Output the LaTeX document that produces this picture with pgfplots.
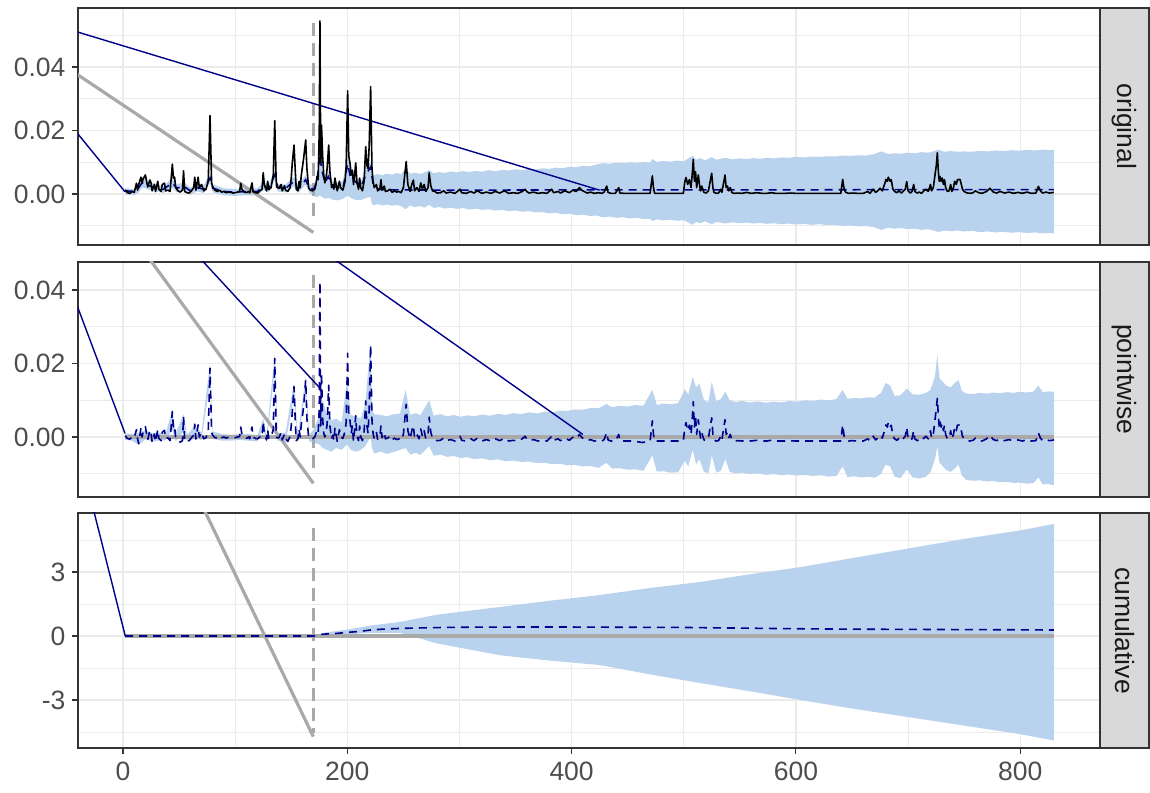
\documentclass[border=0pt]{standalone}
\usepackage{fontspec}
\setmainfont{Liberation Sans}
\usepackage{pgfplots}
\pgfplotsset{compat=1.18}
\usepackage{pgfplotstable}
\usepgfplotslibrary{fillbetween}
\definecolor{grey92}{HTML}{EBEBEB}
\definecolor{grey20}{HTML}{333333}
\definecolor{grey30}{HTML}{4D4D4D}
\definecolor{grey10}{HTML}{1A1A1A}
\definecolor{grey85}{HTML}{D9D9D9}
\definecolor{dgray}{HTML}{A9A9A9}
\definecolor{dblue}{HTML}{00008B}
\definecolor{slate}{HTML}{B9D3EE}

\pgfplotstableread{
x y
2 0.0013
4 0.0004
6 0.0002
8 0.0008
10 0.0005
12 0.0034
13 0.0012
14 0.0030
16 0.0053
17 0.0035
18 0.0048
20 0.0060
21 0.0040
22 0.0022
24 0.0044
25 0.0035
26 0.0010
28 0.0030
29 0.0008
31 0.0040
32 0.0015
34 0.0008
35 0.0030
37 0.0034
38 0.0010
40 0.0012
42 0.0008
44 0.0094
45 0.0050
46 0.0053
47 0.0020
49 0.0010
51 0.0006
53 0.0012
54 0.0073
55 0.0008
57 0.0004
59 0.0003
61 0.0010
63 0.0020
64 0.0053
65 0.0012
67 0.0053
68 0.0020
70 0.0030
72 0.0010
74 0.0015
76 0.0040
77.6 0.0247
79 0.0035
80 0.0023
82 0.0012
84 0.0008
86 0.0012
88 0.0006
90 0.0008
92 0.0004
94 0.0006
96 0.0005
98 0.0003
100 0.0004
102 0.0006
104 0.0008
105 0.0034
106 0.0015
108 0.0006
110 0.0004
112 0.0008
113 0.0003
115 0.0035
116 0.0008
118 0.0004
120 0.0003
122 0.0010
124 0.0015
125 0.0067
126 0.0030
128 0.0010
129 0.0040
130 0.0014
132 0.0020
134 0.0060
135.3 0.0231
136.5 0.0050
137 0.0022
139 0.0018
141 0.0030
142 0.0010
144 0.0026
145 0.0012
147 0.0008
149 0.0020
150 0.0050
151 0.0100
152.5 0.0154
153.5 0.0080
154.5 0.0015
156 0.0010
157 0.0040
158 0.0020
159 0.0060
161 0.0110
162.9 0.0170
164 0.0080
165.5 0.0020
167 0.0012
169 0.0010
171 0.0015
172 0.0030
173 0.0055
174 0.0045
175 0.0200
175.6 0.0545
176.3 0.0100
177 0.0217
178 0.0120
179 0.0060
180 0.0035
181 0.0050
182 0.0080
183.4 0.0154
184.5 0.0070
186 0.0020
187 0.0030
188 0.0015
189 0.0050
190 0.0030
191 0.0010
193 0.0040
194 0.0020
196 0.0012
198 0.0040
199 0.0090
200.3 0.0325
201.3 0.0120
202.4 0.0097
203.5 0.0060
204.5 0.0075
205.5 0.0030
206.5 0.0060
207.5 0.0098
208.5 0.0040
210 0.0015
211 0.0050
212 0.0020
213.5 0.0010
215 0.0040
216.4 0.0149
217.5 0.0090
218.5 0.0080
219.5 0.0150
220.8 0.0338
222 0.0080
223 0.0040
224 0.0020
226 0.0030
227 0.0010
229 0.0015
230 0.0045
231 0.0012
233 0.0025
234 0.0008
236 0.0010
238 0.0015
240 0.0005
242 0.0010
244 0.0006
246 0.0008
248 0.0004
250 0.0020
252.5 0.0102
254 0.0030
256 0.0008
257.5 0.0030
258.9 0.0044
260 0.0010
262 0.0020
264 0.0008
265.5 0.0035
267 0.0015
268.5 0.0030
270 0.0008
272 0.0020
273 0.0067
274.5 0.0025
276 0.0010
278 0.0008
280 0.0003
283 0.0004
286 0.0010
288 0.0003
292 0.0006
296 0.0002
300.5 0.0015
302 0.0004
306 0.0002
310 0.0008
313 0.0003
316 0.0010
320 0.0002
324 0.0006
328 0.0002
332 0.0008
336 0.0003
340 0.0010
344 0.0002
348 0.0004
352 0.0002
356 0.0008
358.4 0.0015
360 0.0008
362 0.0003
366 0.0006
370 0.0002
374 0.0004
378 0.0002
382.2 0.0015
384 0.0004
388 0.0008
390 0.0003
394 0.0010
398 0.0004
401 0.0012
404 0.0008
407 0.0020
409 0.0012
411 0.0008
414 0.0003
417 0.0006
420 0.0002
424 0.0004
427 0.0002
429 0.0006
431.3 0.0025
432.5 0.0005
435 0.0002
439 0.0002
442 0.0020
443 0.0003
447 0.0002
455 0.0002
463 0.0002
470 0.0002
471 0.0030
472 0.0057
473 0.0020
474 0.0002
485 0.0002
495 0.0002
499.6 0.0002
501 0.0040
502 0.0052
503.5 0.0030
505 0.0045
506.5 0.0020
507.5 0.0060
508.5 0.0109
509.5 0.0040
510.5 0.0070
511.5 0.0020
513 0.0060
514 0.0030
515 0.0010
516 0.0025
518 0.0005
520 0.0003
522 0.0010
524.9 0.0065
526 0.0020
527 0.0005
529 0.0002
531 0.0003
533 0.0015
534 0.0005
535.5 0.0035
536.8 0.0060
537.8 0.0020
539 0.0025
540 0.0010
541.5 0.0020
543 0.0004
545 0.0002
548 0.0003
552 0.0002
556 0.0005
560 0.0002
565 0.0004
570 0.0002
574 0.0002
578 0.0004
582 0.0002
586 0.0002
590 0.0002
595 0.0003
600 0.0002
610 0.0002
620 0.0002
630 0.0002
640 0.0002
641.7 0.0046
643 0.0015
644.5 0.0005
647 0.0002
650 0.0003
655 0.0002
660 0.0002
664 0.0008
666 0.0002
669 0.0015
671 0.0005
673 0.0010
675 0.0018
677 0.0010
679 0.0030
680.3 0.0046
681.5 0.0040
682.4 0.0053
684 0.0040
685 0.0045
686.5 0.0015
688 0.0008
690 0.0004
692 0.0010
694 0.0003
696 0.0010
697.5 0.0015
698.8 0.0039
700 0.0010
702 0.0003
703.5 0.0008
705 0.0030
706 0.0008
708 0.0003
710 0.0006
712 0.0002
714 0.0010
716 0.0015
718 0.0008
720 0.0030
721 0.0010
722.5 0.0020
724 0.0060
725.2 0.0090
726.1 0.0130
727 0.0070
727.8 0.0040
728.5 0.0055
729.5 0.0040
730.5 0.0050
731.5 0.0030
732.5 0.0045
733.5 0.0020
735 0.0008
736.5 0.0010
738 0.0030
739 0.0008
740.5 0.0020
741.5 0.0040
743 0.0030
744 0.0045
746.3 0.0046
747.5 0.0030
748.5 0.0015
750 0.0008
752 0.0004
755 0.0002
758 0.0004
760 0.0010
763 0.0004
766 0.0002
770 0.0008
773 0.0018
776 0.0006
779 0.0003
782 0.0008
786 0.0003
790 0.0006
794 0.0002
798 0.0005
802 0.0002
806 0.0006
810 0.0002
814 0.0003
816.2 0.0024
818 0.0010
820 0.0003
823 0.0006
826 0.0003
830 0.0005
}\resp

\pgfplotstableread{
x y
2 0.0010
10 0.0008
14 0.0020
17 0.0035
20 0.0032
24 0.0025
30 0.0020
36 0.0015
44 0.0035
48 0.0018
54 0.0025
60 0.0010
66 0.0020
72 0.0015
77.6 0.0050
80 0.0018
90 0.0008
100 0.0006
110 0.0008
120 0.0008
125 0.0025
130 0.0018
135.3 0.0060
138 0.0020
145 0.0018
152.5 0.0040
156 0.0015
162.9 0.0045
166 0.0018
170 0.0015
173 0.0040
175.6 0.0125
177 0.0080
180 0.0035
183 0.0055
187 0.0025
192 0.0020
196 0.0015
200.3 0.0095
203 0.0050
207 0.0040
212 0.0020
216.4 0.0060
220.8 0.0085
223 0.0030
228 0.0015
240 0.0013
300 0.0012
400 0.0013
500 0.0013
600 0.0013
700 0.0014
830 0.0014
}\pred

\pgfplotstableread{
x lo hi
2 -0.0002 0.0018
10 -0.0003 0.0015
14 0.0005 0.0030
17 0.0020 0.0050
20 0.0018 0.0048
24 0.0012 0.0038
30 0.0008 0.0030
36 0.0003 0.0025
44 0.0020 0.0050
48 0.0005 0.0030
54 0.0012 0.0038
60 -0.0002 0.0020
66 0.0008 0.0032
72 0.0003 0.0027
77.6 0.0035 0.0065
80 0.0005 0.0030
90 -0.0004 0.0018
100 -0.0006 0.0016
110 -0.0004 0.0018
120 -0.0004 0.0018
125 0.0012 0.0038
130 0.0005 0.0030
135.3 0.0045 0.0075
138 0.0008 0.0032
145 0.0005 0.0030
152.5 0.0025 0.0055
156 0.0003 0.0027
162.9 0.0030 0.0060
166 0.0005 0.0030
170 -0.0006 0.0030
173 -0.0010 0.0050
175.6 -0.0005 0.0135
177 -0.0008 0.0090
180 -0.0015 0.0050
183 -0.0012 0.0075
187 -0.0018 0.0040
192 -0.0020 0.0035
196 -0.0015 0.0040
200.3 -0.0005 0.0120
203 -0.0012 0.0070
207 -0.0018 0.0060
212 -0.0020 0.0040
216.4 -0.0012 0.0080
220.8 -0.0010 0.0100
221.8 -0.0030 0.0060
223 -0.0035 0.0058
227 -0.0032 0.0063
231 -0.0036 0.0059
235 -0.0033 0.0064
240 -0.0037 0.0061
244 -0.0034 0.0066
248 -0.0038 0.0063
252 -0.0048 0.0080
256 -0.0036 0.0064
260 -0.0041 0.0067
265 -0.0038 0.0063
269 -0.0043 0.0068
273 -0.0034 0.0076
277 -0.0044 0.0065
282 -0.0041 0.0069
287 -0.0046 0.0066
292 -0.0043 0.0071
298 -0.0047 0.0068
303 -0.0044 0.0072
309 -0.0049 0.0069
315 -0.0046 0.0073
320 -0.0050 0.0070
326 -0.0048 0.0075
332 -0.0052 0.0072
338 -0.0050 0.0076
344 -0.0054 0.0074
350 -0.0052 0.0078
356 -0.0056 0.0075
362 -0.0054 0.0079
368 -0.0058 0.0077
374 -0.0057 0.0081
380 -0.0061 0.0079
386 -0.0059 0.0083
392 -0.0064 0.0081
398 -0.0062 0.0086
404 -0.0067 0.0084
410 -0.0065 0.0089
416 -0.0069 0.0087
422 -0.0068 0.0093
428 -0.0073 0.0097
434 -0.0071 0.0095
440 -0.0075 0.0099
446 -0.0073 0.0097
452 -0.0077 0.0100
458 -0.0075 0.0098
464 -0.0079 0.0101
470 -0.0078 0.0099
472 -0.0085 0.0110
476 -0.0080 0.0101
482 -0.0083 0.0104
488 -0.0081 0.0102
494 -0.0084 0.0105
500 -0.0083 0.0103
504 -0.0090 0.0112
508 -0.0097 0.0120
511 -0.0088 0.0108
515 -0.0092 0.0113
519 -0.0086 0.0106
525 -0.0096 0.0116
529 -0.0088 0.0108
537 -0.0093 0.0114
543 -0.0089 0.0109
550 -0.0092 0.0112
556 -0.0090 0.0110
562 -0.0093 0.0113
568 -0.0091 0.0111
574 -0.0094 0.0114
580 -0.0092 0.0112
587 -0.0095 0.0115
594 -0.0093 0.0114
600 -0.0096 0.0117
607 -0.0094 0.0115
614 -0.0097 0.0118
621 -0.0095 0.0117
628 -0.0098 0.0119
635 -0.0097 0.0118
642 -0.0101 0.0121
649 -0.0099 0.0120
656 -0.0102 0.0122
663 -0.0101 0.0121
670 -0.0105 0.0126
676 -0.0113 0.0134
682 -0.0106 0.0126
688 -0.0109 0.0128
694 -0.0107 0.0127
700 -0.0111 0.0130
706 -0.0109 0.0128
712 -0.0113 0.0132
718 -0.0111 0.0130
724 -0.0116 0.0136
727 -0.0120 0.0140
732 -0.0115 0.0133
738 -0.0117 0.0135
744 -0.0115 0.0133
750 -0.0118 0.0134
757 -0.0116 0.0133
764 -0.0120 0.0136
771 -0.0118 0.0134
778 -0.0121 0.0137
785 -0.0119 0.0135
792 -0.0122 0.0138
799 -0.0120 0.0136
806 -0.0123 0.0139
813 -0.0121 0.0137
820 -0.0124 0.0140
826 -0.0122 0.0138
830 -0.0124 0.0139
}\bandA

\pgfplotstableread{
x y
2 0.0003
4 -0.0004
6 -0.0006
8 0.0000
10 -0.0003
12 0.0020
13 -0.0005
14 -0.0018
16 0.0025
17 0.0000
18 0.0014
20 0.0028
21 0.0008
22 -0.0008
24 0.0019
25 0.0010
26 -0.0014
28 0.0008
29 -0.0013
31 0.0020
32 -0.0004
34 -0.0010
35 0.0013
37 0.0018
38 -0.0005
40 -0.0002
42 -0.0010
44 0.0069
45 0.0025
46 0.0030
47 -0.0005
49 -0.0010
51 -0.0014
53 -0.0010
54 0.0055
55 -0.0012
57 -0.0012
59 -0.0010
61 -0.0002
63 0.0005
64 0.0035
65 -0.0006
67 0.0033
68 0.0000
70 0.0013
72 -0.0005
74 -0.0002
76 0.0015
77.6 0.0187
79 0.0012
80 0.0005
82 -0.0002
84 -0.0002
86 0.0004
88 -0.0002
90 0.0000
92 -0.0003
94 -0.0001
96 -0.0002
98 -0.0003
100 -0.0002
102 0.0000
104 0.0001
105 0.0027
106 0.0008
108 -0.0002
110 -0.0004
112 0.0000
113 -0.0005
115 0.0027
116 0.0000
118 -0.0004
120 -0.0005
122 0.0000
124 -0.0002
125 0.0042
126 0.0008
128 -0.0008
129 0.0020
130 -0.0004
132 0.0000
134 0.0020
135.3 0.0214
136.5 0.0020
137 -0.0002
139 -0.0002
141 0.0012
142 -0.0008
144 0.0008
145 -0.0005
147 -0.0012
149 0.0002
150 0.0030
151 0.0070
152.5 0.0137
153.5 0.0050
154.5 -0.0010
156 -0.0005
157 0.0022
158 0.0000
159 0.0035
161 0.0080
162.9 0.0155
164 0.0050
165.5 0.0000
167 -0.0005
169 -0.0005
171 0.0000
172 0.0010
173 0.0015
174 0.0008
175 0.0080
175.6 0.0423
176.3 0.0030
177 0.0174
178 0.0050
179 0.0010
180 0.0000
181 0.0010
182 0.0035
183.4 0.0141
184.5 0.0030
186 -0.0005
187 0.0005
188 -0.0010
189 0.0025
190 0.0008
191 -0.0012
193 0.0020
194 0.0000
196 -0.0004
198 0.0015
199 0.0040
200.3 0.0228
201.3 0.0055
202.4 0.0045
203.5 0.0010
204.5 0.0030
205.5 -0.0012
206.5 0.0020
207.5 0.0058
208.5 0.0005
210 -0.0010
211 0.0030
212 0.0000
213.5 -0.0010
215 0.0015
216.4 0.0098
217.5 0.0030
218.5 0.0010
219.5 0.0075
220.8 0.0250
222 0.0045
223 0.0010
224 -0.0005
226 0.0012
227 -0.0006
229 0.0000
230 0.0030
231 -0.0002
233 0.0012
234 -0.0005
236 -0.0003
238 0.0002
240 -0.0008
242 -0.0003
244 -0.0007
246 -0.0005
248 -0.0009
250 0.0007
252.5 0.0089
254 0.0017
256 -0.0005
257.5 0.0017
258.9 0.0031
260 -0.0003
262 0.0007
264 -0.0005
265.5 0.0022
267 0.0002
268.5 0.0017
270 -0.0005
272 0.0007
273 0.0054
274.5 0.0012
276 -0.0003
278 -0.0005
280 -0.0010
283 -0.0009
286 -0.0003
288 -0.0010
292 -0.0007
296 -0.0011
300.5 0.0002
302 -0.0009
306 -0.0011
310 -0.0005
313 -0.0010
316 -0.0003
320 -0.0011
324 -0.0007
328 -0.0011
332 -0.0005
336 -0.0010
340 -0.0003
344 -0.0011
348 -0.0009
352 -0.0011
356 -0.0005
358.4 0.0002
360 -0.0005
362 -0.0010
366 -0.0007
370 -0.0011
374 -0.0009
378 -0.0011
382.2 0.0002
384 -0.0009
388 -0.0005
390 -0.0010
394 -0.0003
398 -0.0009
401 -0.0001
404 -0.0005
407 0.0007
409 -0.0001
411 -0.0005
414 -0.0010
417 -0.0007
420 -0.0011
424 -0.0009
427 -0.0011
429 -0.0007
431.3 0.0012
432.5 -0.0008
435 -0.0011
439 -0.0011
442 0.0007
443 -0.0010
447 -0.0011
455 -0.0011
463 -0.0015
470 -0.0011
471 0.0017
472 0.0044
473 0.0007
474 -0.0011
485 -0.0011
495 -0.0011
499.6 -0.0011
501 0.0027
502 0.0039
503.5 0.0017
505 0.0032
506.5 0.0007
507.5 0.0047
508.5 0.0096
509.5 0.0027
510.5 0.0057
511.5 0.0007
513 0.0047
514 0.0017
515 -0.0003
516 0.0012
518 -0.0008
520 -0.0010
522 -0.0003
524.9 0.0052
526 0.0007
527 -0.0008
529 -0.0011
531 -0.0010
533 0.0002
534 -0.0008
535.5 0.0022
536.8 0.0047
537.8 0.0007
539 0.0012
540 -0.0003
541.5 0.0007
543 -0.0009
545 -0.0011
548 -0.0010
552 -0.0011
556 -0.0008
560 -0.0011
565 -0.0009
570 -0.0011
574 -0.0011
578 -0.0009
582 -0.0011
586 -0.0011
590 -0.0011
595 -0.0010
600 -0.0011
610 -0.0011
620 -0.0011
630 -0.0011
640 -0.0011
641.7 0.0033
643 0.0002
644.5 -0.0008
647 -0.0011
650 -0.0010
655 -0.0011
660 -0.0011
664 -0.0005
666 -0.0011
669 0.0002
671 -0.0008
673 -0.0003
675 0.0005
677 -0.0003
679 0.0017
680.3 0.0033
681.5 0.0027
682.4 0.0040
684 0.0027
685 0.0032
686.5 0.0002
688 -0.0005
690 -0.0009
692 -0.0003
694 -0.0010
696 -0.0003
697.5 0.0002
698.8 0.0026
700 -0.0003
702 -0.0010
703.5 -0.0005
705 0.0017
706 -0.0005
708 -0.0010
710 -0.0007
712 -0.0011
714 -0.0003
716 0.0002
718 -0.0005
720 0.0017
721 -0.0003
722.5 0.0007
724 0.0047
725.2 0.0077
726.1 0.0105
727 0.0057
727.8 0.0027
728.5 0.0042
729.5 0.0027
730.5 0.0037
731.5 0.0017
732.5 0.0032
733.5 0.0007
735 -0.0005
736.5 -0.0003
738 0.0017
739 -0.0005
740.5 0.0007
741.5 0.0027
743 0.0017
744 0.0032
746.3 0.0033
747.5 0.0017
748.5 0.0002
750 -0.0005
752 -0.0009
755 -0.0011
758 -0.0009
760 -0.0003
763 -0.0009
766 -0.0011
770 -0.0005
773 0.0005
776 -0.0007
779 -0.0010
782 -0.0005
786 -0.0010
790 -0.0007
794 -0.0011
798 -0.0008
802 -0.0011
806 -0.0007
810 -0.0011
814 -0.0010
816.2 0.0011
818 -0.0003
820 -0.0010
823 -0.0007
826 -0.0010
830 -0.0008
}\eff

\pgfplotstableread{
x lo hi
2 -0.0008 0.0010
8 -0.0010 0.0008
14 -0.0022 0.0012
20 -0.0006 0.0018
26 -0.0012 0.0010
32 -0.0010 0.0012
38 -0.0009 0.0008
44 0.0020 0.0075
47 -0.0012 0.0010
54 0.0015 0.0062
57 -0.0014 0.0006
64 -0.0004 0.0030
70 -0.0008 0.0012
77.6 0.0150 0.0200
80 -0.0005 0.0015
88 -0.0010 0.0008
96 -0.0010 0.0006
104 -0.0008 0.0008
112 -0.0010 0.0008
120 -0.0012 0.0005
125 0.0025 0.0050
128 -0.0014 0.0004
135.3 0.0180 0.0225
138 -0.0010 0.0010
145 -0.0014 0.0012
152.5 0.0110 0.0150
156 -0.0014 0.0004
162.9 0.0130 0.0165
166 -0.0012 0.0006
170 -0.0015 0.0020
175 -0.0020 0.0060
178 -0.0030 0.0100
182 -0.0035 0.0060
186 -0.0040 0.0045
190 -0.0030 0.0050
195 -0.0035 0.0040
200 -0.0020 0.0160
203 -0.0035 0.0060
208 -0.0040 0.0055
212 -0.0035 0.0050
216 -0.0025 0.0090
220.8 0.0000 0.0260
222 -0.0030 0.0075
224 -0.0045 0.0062
230 -0.0040 0.0060
235 -0.0046 0.0056
240 -0.0042 0.0061
247 -0.0035 0.0064
252 -0.0030 0.0128
256 -0.0048 0.0060
261 -0.0043 0.0065
265 -0.0049 0.0059
273 -0.0025 0.0100
277 -0.0051 0.0058
283 -0.0048 0.0062
289 -0.0054 0.0056
295 -0.0052 0.0060
301 -0.0057 0.0055
307 -0.0055 0.0059
313 -0.0060 0.0056
320 -0.0058 0.0061
327 -0.0063 0.0058
334 -0.0061 0.0063
341 -0.0066 0.0060
348 -0.0064 0.0065
355 -0.0068 0.0062
362 -0.0067 0.0067
369 -0.0071 0.0064
376 -0.0070 0.0069
383 -0.0074 0.0067
390 -0.0073 0.0072
396 -0.0077 0.0071
403 -0.0076 0.0075
410 -0.0080 0.0074
417 -0.0079 0.0079
424 -0.0084 0.0078
431 -0.0070 0.0090
436 -0.0086 0.0081
443 -0.0085 0.0085
450 -0.0089 0.0083
457 -0.0088 0.0087
464 -0.0092 0.0085
472 -0.0050 0.0128
476 -0.0094 0.0087
482 -0.0093 0.0091
488 -0.0097 0.0089
495 -0.0096 0.0092
501 -0.0065 0.0130
504 -0.0080 0.0115
508 -0.0035 0.0164
511 -0.0075 0.0135
514 -0.0060 0.0145
518 -0.0095 0.0100
522 -0.0098 0.0095
525 -0.0050 0.0150
529 -0.0097 0.0097
533 -0.0092 0.0103
537 -0.0060 0.0123
541 -0.0095 0.0100
546 -0.0099 0.0095
552 -0.0097 0.0098
559 -0.0101 0.0094
566 -0.0099 0.0097
573 -0.0103 0.0093
580 -0.0101 0.0096
587 -0.0104 0.0094
594 -0.0102 0.0098
601 -0.0105 0.0096
608 -0.0103 0.0100
615 -0.0106 0.0098
622 -0.0104 0.0102
629 -0.0108 0.0100
636 -0.0106 0.0103
641.7 -0.0080 0.0128
646 -0.0109 0.0104
652 -0.0107 0.0106
658 -0.0110 0.0105
664 -0.0108 0.0108
670 -0.0111 0.0107
676 -0.0100 0.0120
680 -0.0075 0.0147
684 -0.0080 0.0140
688 -0.0108 0.0112
693 -0.0112 0.0113
699 -0.0088 0.0132
704 -0.0110 0.0116
710 -0.0113 0.0115
716 -0.0108 0.0120
720 -0.0095 0.0128
724 -0.0060 0.0165
726.1 -0.0026 0.0223
728 -0.0070 0.0160
731 -0.0080 0.0150
734 -0.0090 0.0140
738 -0.0095 0.0135
742 -0.0085 0.0148
745 -0.0075 0.0155
748 -0.0105 0.0125
752 -0.0117 0.0118
758 -0.0119 0.0117
764 -0.0118 0.0120
770 -0.0121 0.0118
776 -0.0120 0.0121
782 -0.0123 0.0119
788 -0.0122 0.0122
794 -0.0125 0.0120
800 -0.0124 0.0123
806 -0.0127 0.0121
812 -0.0125 0.0124
816.2 -0.0110 0.0140
820 -0.0129 0.0122
825 -0.0128 0.0124
830 -0.0131 0.0123
}\bandB

\pgfplotstableread{
x y
2 0
170 0
172 0.02
176 0.07
180 0.09
190 0.12
200 0.17
210 0.21
222 0.29
235 0.33
250 0.36
275 0.39
300 0.41
350 0.42
400 0.42
450 0.41
500 0.40
550 0.37
600 0.34
650 0.32
700 0.31
750 0.30
800 0.29
830 0.28
}\cum

\pgfplotstableread{
x lo hi
170 0 0
180 0.02 0.16
200 0.08 0.30
222 0.15 0.50
247 0.15 0.66
280 -0.35 1.00
336 -0.90 1.36
380 -1.15 1.65
425 -1.36 1.92
470 -1.80 2.25
514 -2.20 2.53
560 -2.60 2.90
604 -3.00 3.23
650 -3.40 3.65
700 -3.80 4.10
750 -4.20 4.55
800 -4.60 4.95
830 -4.90 5.25
}\bandC

\pgfplotsset{
  panel/.style={
    scale only axis, width=1022pt, anchor=south west,
    xmin=-40.12, xmax=871.2,
    xtick={0,200,400,600,800}, minor xtick={100,300,500,700},
    xticklabels={0,200,400,600,800},
    scaled x ticks=false, scaled y ticks=false,
    xmajorgrids, xminorgrids, ymajorgrids, yminorgrids,
    major grid style={draw=grey92, line width=1.4pt},
    minor grid style={draw=grey92, line width=0.7pt},
    axis line style={draw=grey20, line width=1.1pt},
    tick align=outside, major tick length=6pt, minor tick length=0pt,
    tick style={draw=grey20, line width=1.1pt},
    xtick pos=bottom, ytick pos=left,
    ticklabel style={font=\fontsize{26.5}{30}\selectfont, text=grey30},
    yticklabel style={xshift=-3pt},
    clip=true,
  },
  band/.style={draw=none, fill=slate},
  gline/.style={draw=dgray, line width=3.2pt},
  vdash/.style={draw=dgray, line width=3.2pt, dash pattern=on 13pt off 7pt},
  bdash/.style={draw=dblue, line width=1.6pt, dash pattern=on 8pt off 6pt},
  bsolid/.style={draw=dblue, line width=1.4pt},
}

\begin{document}
\begin{tikzpicture}

% ---------------- panel 1: original
\begin{axis}[panel, at={(78pt,547pt)}, height=237pt,
  ymin=-0.01606, ymax=0.05858,
  ytick={0,0.02,0.04}, yticklabels={0.00,0.02,0.04},
  minor ytick={-0.01,0.01,0.03,0.05},
  xticklabels={}, xtick style={draw=none}]
\addplot[draw=none, name path=aLo, forget plot] table[x=x, y=lo] {\bandA};
\addplot[draw=none, name path=aHi, forget plot] table[x=x, y=hi] {\bandA};
\addplot[band] fill between[of=aLo and aHi];
\addplot[vdash] coordinates {(170,0.0539) (170,-0.0082)};
\addplot[gline] coordinates {(-60,0.0422) (169.7,-0.0121)};
\addplot[bsolid] coordinates {(-60,0.0275) (1.8,0.0007)};
\addplot[bsolid] coordinates {(-60,0.0531) (425,0.0012)};
\addplot[bdash] table[x=x, y=y] {\pred};
\addplot[draw=black, line width=1.6pt, line join=round] table[x=x, y=y] {\resp};
\end{axis}

% ---------------- panel 2: pointwise
\begin{axis}[panel, at={(78pt,295pt)}, height=235pt,
  ymin=-0.01633, ymax=0.04762,
  ytick={0,0.02,0.04}, yticklabels={0.00,0.02,0.04},
  minor ytick={-0.01,0.01,0.03},
  xticklabels={}, xtick style={draw=none}]
\addplot[draw=none, name path=bLo, forget plot] table[x=x, y=lo] {\bandB};
\addplot[draw=none, name path=bHi, forget plot] table[x=x, y=hi] {\bandB};
\addplot[band] fill between[of=bLo and bHi];
\addplot[vdash] coordinates {(170,0.0441) (170,-0.0090)};
\addplot[gline] coordinates {(0,0.0583) (169.7,-0.0126)};
\addplot[gline] coordinates {(2,0) (830,0)};
\addplot[bsolid] coordinates {(-60,0.0513) (1.8,0.0010)};
\addplot[bsolid] coordinates {(50,0.0548) (175,0.0135)};
\addplot[bsolid] coordinates {(170,0.0523) (410,0.0007)};
\addplot[bdash, line join=round] table[x=x, y=y] {\eff};
\end{axis}

% ---------------- panel 3: cumulative
\begin{axis}[panel, at={(78pt,44pt)}, height=235pt,
  ymin=-5.25, ymax=5.766,
  ytick={-3,0,3}, yticklabels={-3,0,3},
  minor ytick={-4.5,-1.5,1.5,4.5},
  xticklabel style={yshift=-4pt}]
\addplot[draw=none, name path=cLo, forget plot] table[x=x, y=lo] {\bandC};
\addplot[draw=none, name path=cHi, forget plot] table[x=x, y=hi] {\bandC};
\addplot[band] fill between[of=cLo and cHi];
\addplot[vdash] coordinates {(170,5.05) (170,-4.56)};
\addplot[gline] coordinates {(50,8.36) (169.7,-4.72)};
\addplot[gline] coordinates {(2,0) (830,0)};
\addplot[bsolid] coordinates {(-45,9.83) (2,0)};
\addplot[bdash] table[x=x, y=y] {\cum};
\end{axis}

% ---------------- strips
\begin{scope}[every node/.style={rotate=-90, text=grey10, font=\fontsize{26.5}{30}\selectfont}]
\draw[fill=grey85, draw=grey20, line width=1.1pt] (1100pt,784pt) rectangle (1149pt,547pt);
\node at (1124.5pt,665.5pt) {original};
\draw[fill=grey85, draw=grey20, line width=1.1pt] (1100pt,530pt) rectangle (1149pt,295pt);
\node at (1124.5pt,412.5pt) {pointwise};
\draw[fill=grey85, draw=grey20, line width=1.1pt] (1100pt,279pt) rectangle (1149pt,44pt);
\node at (1124.5pt,161.5pt) {cumulative};
\end{scope}

\pgfresetboundingbox
\path[use as bounding box] (0pt,0pt) rectangle (1150pt,792pt);
\end{tikzpicture}
\end{document}
